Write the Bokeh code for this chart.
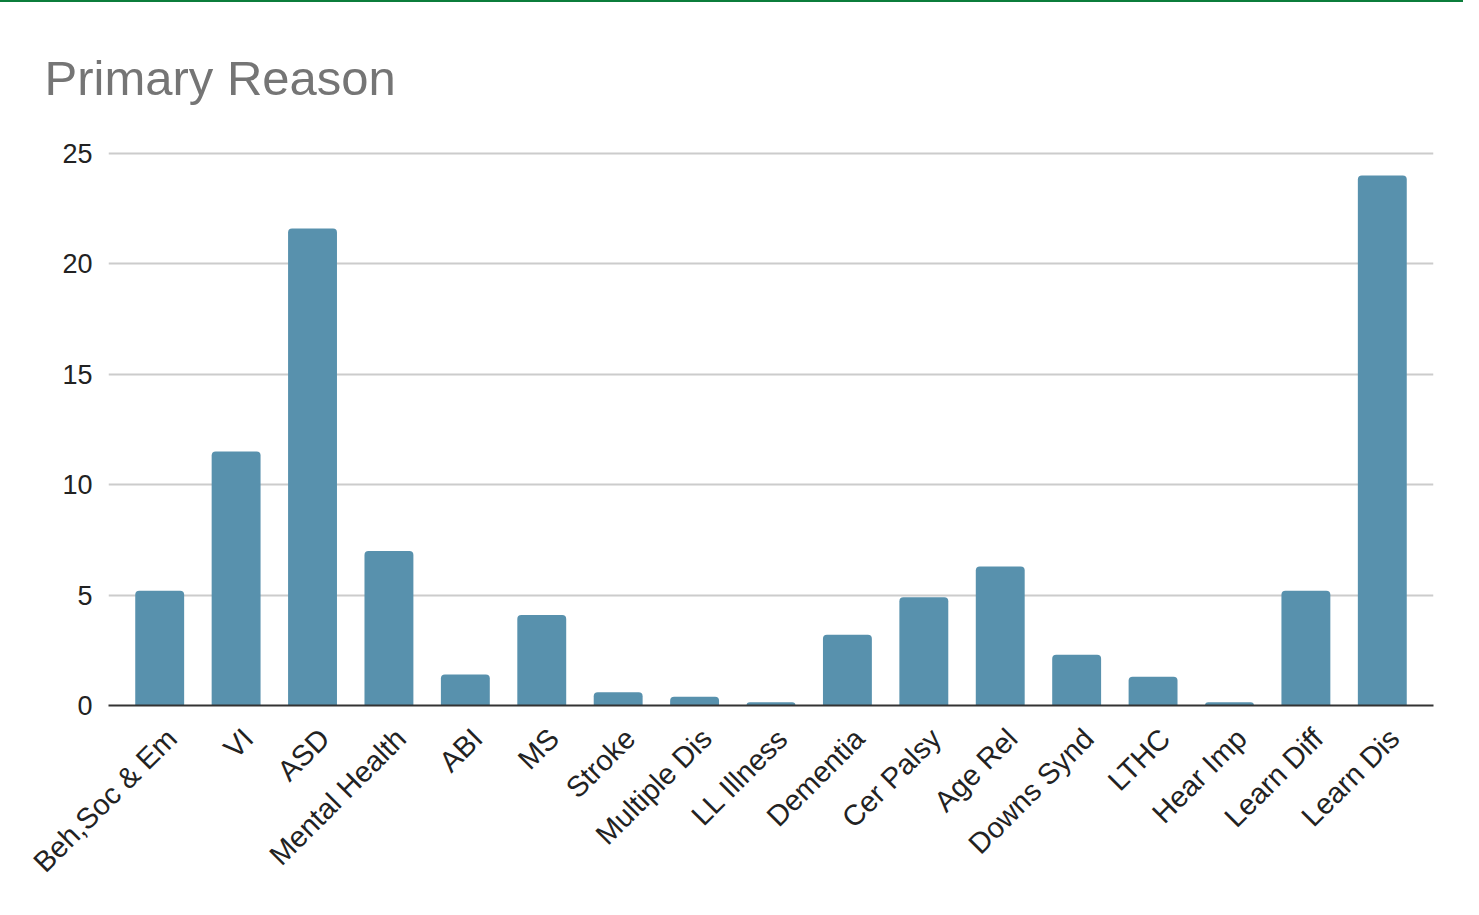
from math import pi
from bokeh.plotting import figure
from bokeh.models import (Range1d, ColumnDataSource, FixedTicker, LinearAxis)
from bokeh.embed import file_html
from bokeh.resources import INLINE

categories = ["Beh,Soc & Em", "VI", "ASD", "Mental Health", "ABI", "MS", "Stroke",
              "Multiple Dis", "LL Illness", "Dementia", "Cer Palsy", "Age Rel",
              "Downs Synd", "LTHC", "Hear Imp", "Learn Diff", "Learn Dis"]
values = [5.2, 11.5, 21.6, 7.0, 1.4, 4.1, 0.6, 0.4, 0.15, 3.2, 4.9, 6.3, 2.3, 1.3, 0.15, 5.2, 24.0]
y_ticks = [0, 5, 10, 15, 20, 25]

FONT = "Liberation Sans"
n = len(categories)
idx = list(range(n))
half_pad = 0.17
label_shift = 0.157   # rotated labels sit slightly right of bar centres

src = ColumnDataSource(dict(idx=idx, cat=categories, val=values))

p = figure(width=1463, height=897, output_backend="svg", toolbar_location=None,
           x_range=Range1d(-0.5 - half_pad, n - 0.5 + half_pad),
           y_range=Range1d(0, 25.36), x_axis_location=None,
           min_border_left=108, min_border_right=30, min_border_top=143,
           min_border_bottom=194,
           styles={"border-top": "2px solid #0b7d3b"})

p.vbar(x="idx", top="val", width=0.64, source=src, color="#5891ad",
       line_color=None, border_radius=(4, 4, 0, 0))

# axis carrying the rotated category labels
p.extra_x_ranges = {"lab": Range1d(-0.5 - half_pad - label_shift,
                                   n - 0.5 + half_pad - label_shift)}
lab_axis = LinearAxis(x_range_name="lab",
                      ticker=FixedTicker(ticks=idx),
                      major_label_overrides={i: c for i, c in zip(idx, categories)})
lab_axis.axis_line_color = "#333333"
lab_axis.axis_line_width = 2
lab_axis.major_tick_line_color = None
lab_axis.minor_tick_line_color = None
lab_axis.major_label_orientation = pi / 4
lab_axis.major_label_standoff = 22
lab_axis.major_label_text_font = FONT
lab_axis.major_label_text_font_size = "29px"
lab_axis.major_label_text_color = "#222222"
p.add_layout(lab_axis, "below")

p.title.text = "Primary Reason"
p.title.text_font = FONT
p.title.text_font_size = "49px"
p.title.text_font_style = "normal"
p.title.text_color = "#757575"
p.title.offset = -64
p.title.standoff = 82

p.outline_line_color = None
p.background_fill_color = "white"
p.border_fill_color = "white"

p.xgrid.grid_line_color = None
p.ygrid.grid_line_color = "#cccccc"
p.ygrid.grid_line_width = 2
p.yaxis.ticker = FixedTicker(ticks=y_ticks)

p.yaxis.axis_line_color = None
p.yaxis.major_tick_line_color = None
p.yaxis.minor_tick_line_color = None
p.yaxis.major_label_standoff = 10
p.yaxis.major_label_text_font = FONT
p.yaxis.major_label_text_font_size = "27px"
p.yaxis.major_label_text_color = "#222222"

open("out.html", "w").write(file_html(p, INLINE))
